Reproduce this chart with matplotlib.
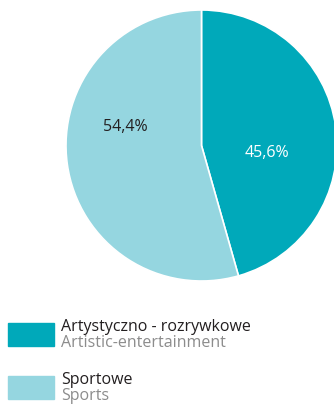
import matplotlib
matplotlib.use('Agg')
import matplotlib.pyplot as plt
from matplotlib.patches import Rectangle

# data
categories_pl = ['Artystyczno - rozrywkowe', 'Sportowe']
categories_en = ['Artistic-entertainment', 'Sports']
shares = [45.6, 54.4]
colors = ['#00a9ba', '#95d6e0']
label_colors = ['white', '#231f20']

plt.rcParams['font.family'] = ['Open Sans', 'DejaVu Sans']

W, H = 334, 406
fig = plt.figure(figsize=(W / 100, H / 100), dpi=100)

# pie axes placed in pixel coords
cx, cy, r = 201.5, 146.5, 135.5
ax = fig.add_axes([(cx - r) / W, (H - cy - r) / H, 2 * r / W, 2 * r / H])
wedges, texts = ax.pie(shares, colors=colors, startangle=90, counterclock=False,
                       radius=1, wedgeprops=dict(edgecolor='white', linewidth=1.2))
ax.set_xlim(-1, 1)
ax.set_ylim(-1, 1)
ax.axis('off')
for w in wedges:
    w.set_clip_on(False)

# percentage labels
label_pos = [(0.48, -0.05), (-0.565, 0.145)]
for s, (x, y), c in zip(shares, label_pos, label_colors):
    ax.text(x, y, f'{s:.1f}%'.replace('.', ','), ha='center', va='center',
            fontsize=11.5, color=c)

# legend
rows_y = [335.5, 388.5]
for pl, en, col, y in zip(categories_pl, categories_en, colors, rows_y):
    fig.patches.append(Rectangle((8 / W, (H - y - 11.5) / H), 46 / W, 23 / H,
                                 transform=fig.transFigure, color=col))
    fig.text(61 / W, (H - y + 8.5) / H, pl, fontsize=11.5, color='#231f20',
             ha='left', va='center')
    fig.text(61 / W, (H - y - 8) / H, en, fontsize=11.5, color='#8c8c8c',
             ha='left', va='center')

fig.savefig('out.png', dpi=100)
